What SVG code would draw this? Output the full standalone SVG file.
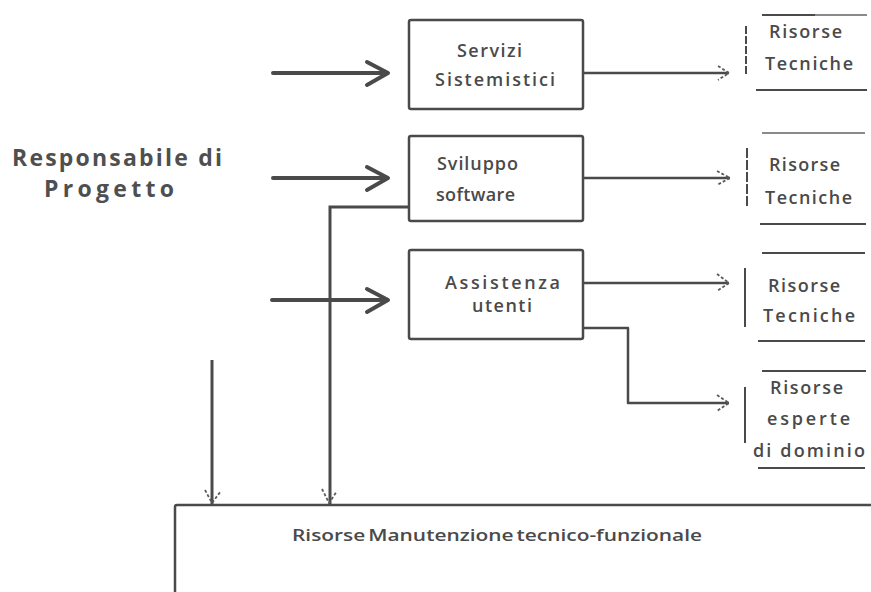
<svg xmlns="http://www.w3.org/2000/svg" width="871" height="592" viewBox="0 0 871 592">
<style>
.bg{fill:#ffffff}
.box{fill:#ffffff;stroke:#4a4a4a;stroke-width:2.5}
.t{font-family:"Open Sans","Liberation Sans",sans-serif;fill:#4a4a4a;font-size:18px;font-weight:600;text-anchor:start}
.tb{font-family:"Open Sans","Liberation Sans",sans-serif;fill:#4a4a4a;font-size:17px;font-weight:600;text-anchor:start}
.tl{font-family:"Open Sans","Liberation Sans",sans-serif;fill:#4f4f4f;font-size:23px;font-weight:bold;text-anchor:start}
.thick{fill:none;stroke:#4a4a4a;stroke-width:4;stroke-linecap:round;stroke-linejoin:round}
.ln{fill:none;stroke:#4a4a4a;stroke-width:2.5;stroke-linejoin:round}
.vl{fill:none;stroke:#4a4a4a;stroke-width:3}
.ah{fill:none;stroke:#5a5a5a;stroke-width:1.8;stroke-dasharray:3 2}
.br{fill:none;stroke:#4a4a4a;stroke-width:2}
.brl{fill:none;stroke:#8a8a8a;stroke-width:2}
</style>
<rect class="bg" x="0" y="0" width="871" height="592"/>

<g id="responsabile">
<text class="tl" x="12" y="166" textLength="210" lengthAdjust="spacing">Responsabile di</text>
<text class="tl" x="44" y="197" textLength="130" lengthAdjust="spacing">Progetto</text>
</g>

<g id="servizi">
<rect class="box" x="409" y="20" width="174" height="89" rx="2"/>
<text class="t" x="457" y="57" textLength="65" lengthAdjust="spacing">Servizi</text>
<text class="t" x="435" y="86" textLength="120" lengthAdjust="spacing">Sistemistici</text>
</g>

<g id="sviluppo">
<rect class="box" x="409" y="136" width="174" height="85" rx="2"/>
<text class="t" x="437" y="170" textLength="81" lengthAdjust="spacing">Sviluppo</text>
<text class="t" x="436" y="201" textLength="79" lengthAdjust="spacing">software</text>
</g>

<g id="assistenza">
<rect class="box" x="409" y="250" width="174" height="89" rx="2"/>
<text class="t" x="445" y="289" textLength="115" lengthAdjust="spacing">Assistenza</text>
<text class="t" x="472" y="312" textLength="60" lengthAdjust="spacing">utenti</text>
</g>

<g id="risorse-tecniche-1">
<line class="br" x1="762" y1="15" x2="815" y2="15"/>
<line class="brl" x1="815" y1="15" x2="867" y2="15"/>
<line class="br" x1="746" y1="26" x2="746" y2="75" stroke-dasharray="8 2"/>
<line class="br" x1="756" y1="90" x2="867" y2="90"/>
<text class="t" x="769" y="38" textLength="73" lengthAdjust="spacing">Risorse</text>
<text class="t" x="765" y="70" textLength="88" lengthAdjust="spacing">Tecniche</text>
</g>

<g id="risorse-tecniche-2">
<line class="brl" x1="762" y1="133" x2="865" y2="133"/>
<line class="br" x1="747" y1="148" x2="747" y2="208" stroke-dasharray="10 2"/>
<line class="br" x1="760" y1="224" x2="866" y2="224"/>
<text class="t" x="769" y="171" textLength="71" lengthAdjust="spacing">Risorse</text>
<text class="t" x="765" y="204" textLength="87" lengthAdjust="spacing">Tecniche</text>
</g>

<g id="risorse-tecniche-3">
<line class="br" x1="762" y1="253" x2="865" y2="253"/>
<line class="br" x1="745" y1="268" x2="745" y2="327"/>
<line class="br" x1="758" y1="341" x2="865" y2="341"/>
<text class="t" x="768" y="292" textLength="72" lengthAdjust="spacing">Risorse</text>
<text class="t" x="763" y="322" textLength="92" lengthAdjust="spacing">Tecniche</text>
</g>

<g id="risorse-esperte">
<line class="br" x1="762" y1="371" x2="866" y2="371"/>
<line class="br" x1="745" y1="387" x2="745" y2="443"/>
<line class="br" x1="758" y1="468" x2="865" y2="468"/>
<text class="t" x="770" y="394" textLength="73" lengthAdjust="spacing">Risorse</text>
<text class="t" x="767" y="425" textLength="83" lengthAdjust="spacing">esperte</text>
<text class="t" x="753" y="457" textLength="112" lengthAdjust="spacing">di dominio</text>
</g>

<g id="manutenzione">
<rect class="box" x="175" y="505" width="720" height="120" rx="2"/>
<text class="tb" x="292" y="541" textLength="410" lengthAdjust="spacingAndGlyphs" word-spacing="-2">Risorse Manutenzione tecnico-funzionale</text>
</g>

<g id="connectors">
<path class="thick" d="M273,73 H386 M367,62 L388,73 L367,85"/>
<path class="thick" d="M273,178 H386 M367,167 L388,178 L367,190"/>
<path class="thick" d="M272,300 H386 M367,289 L388,300 L367,312"/>
<path class="ln" d="M583,73 H729"/>
<path class="ah" d="M718,66 L729,73 L718,80"/>
<path class="ln" d="M583,178 H730"/>
<path class="ah" d="M717,171 L730,178 L717,185"/>
<path class="ln" d="M583,283 H729"/>
<path class="ah" d="M717,274 L729,283 L717,291"/>
<path class="ln" d="M583,328 H628 V403 H729"/>
<path class="ah" d="M717,395 L729,403 L717,411"/>
<path class="vl" d="M212,360 V504"/>
<path class="ah" d="M205,490 L212,503 L221,491"/>
<path class="vl" d="M409,207 H330 V504"/>
<path class="ah" d="M322,489 L329,503 L337,491"/>
</g>
</svg>
